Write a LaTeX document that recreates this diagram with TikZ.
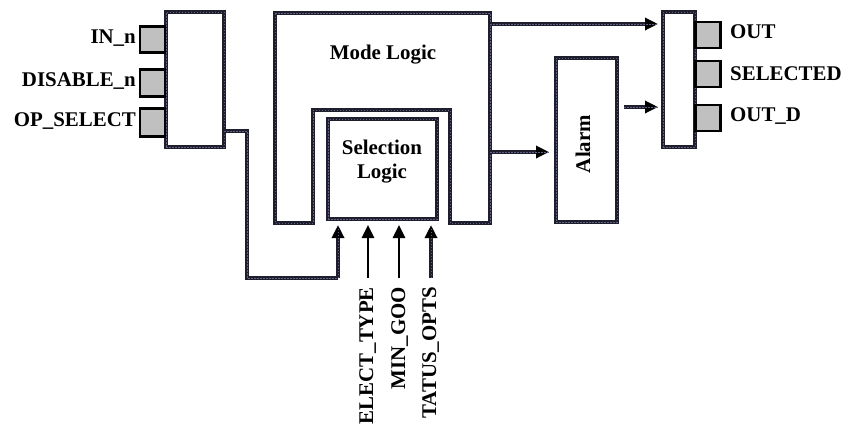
\documentclass[tikz,border=0pt]{standalone}
\usepackage{fontspec}
\setmainfont{Liberation Serif}
\usetikzlibrary{arrows.meta}
\definecolor{wirec}{RGB}{30,30,45}
\definecolor{dotc}{RGB}{95,95,130}
\definecolor{portc}{RGB}{192,192,192}
\tikzset{
  wire/.style={draw=wirec,line width=3.2pt,
    postaction={draw=dotc,line width=0.9pt,dash pattern=on 1.5pt off 1.5pt,arrows=-}},
  blk/.style={wire,fill=white,inner sep=0pt},
  port/.style={draw=black,line width=2.8pt,fill=portc,inner sep=0pt,minimum width=25pt},
  lbl/.style={font=\bfseries\fontsize{20.9}{24}\selectfont,inner sep=0pt},
  arr/.style={-{Triangle[length=13pt,width=12pt,color=black]}},
  sig/.style={draw=black,line width=2.8pt},
}
\begin{document}
\begin{tikzpicture}[x=1pt,y=-1pt]
\useasboundingbox (0,0) rectangle (843,424);
% left input block
\node[blk,minimum width=58pt,minimum height=135pt] (inblk) at (195,79.5) {};
\node[port,minimum height=26pt] (pin) at (152.5,39.5) {};
\node[port,minimum height=27pt] (pdis) at (152.5,83) {};
\node[port,minimum height=28pt] (pop) at (152.5,122.5) {};
\node[lbl,anchor=base east] (lin) at (136,43) {IN\_n};
\node[lbl,anchor=base east] (ldis) at (136,86) {DISABLE\_n};
\node[lbl,anchor=base east] (lop) at (136,126) {OP\_SELECT};
% mode logic (U shape)
\draw[wire,fill=white] (275,13) -- (490,13) -- (490,223) -- (450,223) -- (450,110)
  -- (313,110) -- (313,223) -- (275,223) -- cycle;
\coordinate (mtop) at (490,24);
\coordinate (mmid) at (490,152);
\node[lbl] (mode) at (383,55) {Mode Logic};
% selection logic
\node[blk,minimum width=109pt,minimum height=100pt] (sel) at (382.5,169) {};
\node[lbl,align=center] (seltxt) at (382,162) {Selection\\Logic};
% alarm
\node[blk,minimum width=61pt,minimum height=164pt] (alarm) at (586.5,140) {};
\node[lbl,rotate=90,anchor=base] (alarmtxt) at (590,144) {Alarm};
% output block
\node[blk,minimum width=32pt,minimum height=135pt] (outblk) at (679,79.5) {};
\node[port,minimum height=26pt] (pout) at (708,35) {};
\node[port,minimum height=26pt] (psel) at (708,74) {};
\node[port,minimum height=26pt] (poutd) at (708,118) {};
\node[lbl,anchor=base west] (lout) at (730,38) {OUT};
\node[lbl,anchor=base west] (lsel) at (730,80) {SELECTED};
\node[lbl,anchor=base west] (loutd) at (730,121) {OUT\_D};
% connectors
\coordinate (opout) at (224,131);
\coordinate (a1) at (338,278);
\coordinate (a2) at (368,278);
\coordinate (a3) at (399,278);
\coordinate (a4) at (431,278);
\coordinate (t1) at (338,225);
\coordinate (t2) at (368,225);
\coordinate (t3) at (399,225);
\coordinate (t4) at (431,225);
\draw[wire] (opout) -- (247,131) -- (247,278) -- (a1);
\draw[wire,arr] (a1) -- (t1);
\draw[sig,arr] (a2) -- (t2);
\draw[sig,arr] (a3) -- (t3);
\draw[wire,arr] (a4) -- (t4);
\draw[wire,arr] (mtop) -- (658,24);
\draw[wire,arr] (mmid) -- (549,152);
\coordinate (stub) at (624,107);
\draw[wire,arr] (stub) -- (658,107);
% bottom labels
\node[lbl,rotate=90,anchor=base east] (l1) at (373,287) {ELECT\_TYPE};
\node[lbl,rotate=90,anchor=base east] (l2) at (405,287) {MIN\_GOO};
\node[lbl,rotate=90,anchor=base east] (l3) at (436,287) {TATUS\_OPTS};
\end{tikzpicture}
\end{document}
